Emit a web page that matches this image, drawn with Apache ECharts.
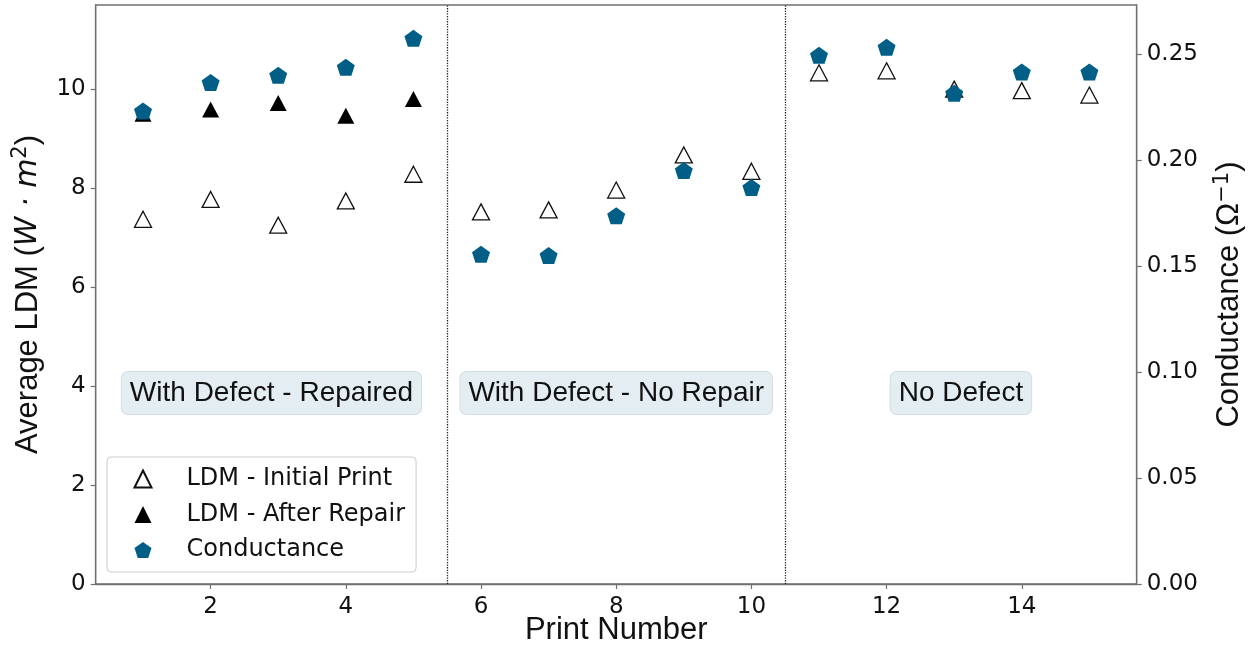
<!DOCTYPE html>
<html>
<head>
<meta charset="utf-8">
<script src="https://cdn.jsdelivr.net/npm/echarts@6/dist/echarts.min.js"></script>
<style>
html,body{margin:0;padding:0;background:#fff;}
#chart{width:1250px;height:647px;}
</style>
</head>
<body>
<div id="chart"></div>
<script>
// ---- data ----
const printNumbers = [1,2,3,4,5,6,7,8,9,10,11,12,13,14,15];
const ldmInitial = [7.37,7.77,7.25,7.74,8.28,7.52,7.56,7.96,8.67,8.34,10.33,10.37,10.0,9.97,9.88];
const repairedPrints = [1,2,3,4,5];
const ldmAfterRepair = [9.50,9.59,9.72,9.46,9.80];
const conductance = [0.2231,0.2365,0.2400,0.2437,0.2574,0.1555,0.1549,0.1737,0.1950,0.1870,0.2494,0.2532,0.2315,0.2415,0.2415];
const dividers = [5.5, 10.5];
const regionNames = ['With Defect - Repaired','With Defect - No Repair','No Defect'];
const regionAnchorX = [2.9, 8.0, 13.1];
const regionAnchorY = 3.86;
const xTicks = [2,4,6,8,10,12,14];
const yLeftTicks = [0,2,4,6,8,10];
const yRightTicks = [0,0.05,0.10,0.15,0.20,0.25];

const pentagon = 'path://M0,-1L0.951,-0.309L0.588,0.809L-0.588,0.809L-0.951,-0.309Z';
const FONT_TICK = 'DejaVu Sans';
const FONT_TITLE = 'Liberation Sans';
const axisCol = '#707070';

const chart = echarts.init(document.getElementById('chart'), null, {renderer:'canvas'});

const tickCommon = {
  axisLine:{show:true, lineStyle:{color:axisCol, width:1.3}},
  axisTick:{show:true, inside:false, length:5, lineStyle:{color:axisCol, width:1.2}},
  splitLine:{show:false}
};

const option = {
  animation:false,
  backgroundColor:'#fff',
  grid:{left:95.7, right:113.3, top:5, bottom:63, containLabel:false, outerBoundsMode:'none',
        show:true, borderColor:axisCol, borderWidth:1.3, backgroundColor:'transparent'},
  xAxis:{
    type:'value', min:0.3, max:15.7,
    ...tickCommon,
    axisTick:{...tickCommon.axisTick, customValues:xTicks},
    axisLabel:{customValues:xTicks, fontFamily:FONT_TICK, fontSize:23, color:'#111', margin:12},
    name:'Print Number', nameLocation:'middle', nameGap:31, nameMoveOverlap:false,
    nameTextStyle:{fontFamily:FONT_TITLE, fontSize:31, color:'#111', verticalAlign:'top'}
  },
  yAxis:[{
    type:'value', min:0, max:11.7, position:'left',
    ...tickCommon,
    axisTick:{...tickCommon.axisTick, customValues:yLeftTicks},
    axisLabel:{customValues:yLeftTicks, fontFamily:FONT_TICK, fontSize:23, color:'#111', margin:10},
    name:'{t|Average LDM (}{i|W · m}{s|2}{t|)}', nameLocation:'middle', nameGap:37, nameRotate:90,
    nameTextStyle:{rich:{
      t:{fontFamily:FONT_TITLE, fontSize:31, color:'#111', lineHeight:35},
      i:{fontFamily:FONT_TICK, fontStyle:'italic', fontSize:30, color:'#111', lineHeight:35},
      s:{fontFamily:FONT_TICK, fontSize:21, color:'#111', verticalAlign:'top', lineHeight:35, padding:[0,0,14,0]}
    }}
  },{
    type:'value', min:0, max:0.2731, position:'right',
    ...tickCommon,
    axisTick:{...tickCommon.axisTick, customValues:yRightTicks},
    axisLabel:{customValues:yRightTicks, fontFamily:FONT_TICK, fontSize:23, color:'#111', margin:10,
      formatter:v=>v.toFixed(2)},
    name:'{t|Conductance (Ω}{s|−1}{t|)}', nameLocation:'middle', nameGap:75, nameRotate:90,
    nameTextStyle:{rich:{
      t:{fontFamily:FONT_TITLE, fontSize:31, color:'#111', lineHeight:35},
      s:{fontFamily:FONT_TICK, fontSize:21, color:'#111', verticalAlign:'top', lineHeight:35, padding:[0,0,14,0]}
    }}
  }],
  legend:{
    data:['LDM - Initial Print','LDM - After Repair','Conductance'],
    orient:'vertical', left:107, top:457,
    backgroundColor:'#fff', borderColor:'#cccccc', borderWidth:1, borderRadius:4,
    padding:[9,11,9,26.5], itemWidth:17, itemHeight:17, itemGap:9.5,
    textStyle:{fontFamily:FONT_TICK, fontSize:24, color:'#111', lineHeight:26, padding:[0,0,0,30]}
  },
  series:[
    {
      name:'LDM - Initial Print', type:'scatter', yAxisIndex:0,
      symbol:'triangle', symbolSize:[17,16],
      itemStyle:{color:'#ffffff', borderColor:'#111', borderWidth:1.3, opacity:1},
      data:printNumbers.map((x,i)=>[x, ldmInitial[i]]),
      markLine:{
        silent:true, symbol:['none','none'], label:{show:false},
        lineStyle:{type:'dotted', color:'#222', width:1.3},
        data:dividers.map(v=>({xAxis:v}))
      },
      z:3
    },
    {
      name:'LDM - After Repair', type:'scatter', yAxisIndex:0,
      symbol:'triangle', symbolSize:[17,16],
      itemStyle:{color:'#000000', opacity:1},
      data:repairedPrints.map((x,i)=>[x, ldmAfterRepair[i]]),
      z:4
    },
    {
      name:'Conductance', type:'scatter', yAxisIndex:1,
      symbol:pentagon, symbolSize:[18,17],
      itemStyle:{color:'#015f87', opacity:1},
      data:printNumbers.map((x,i)=>[x, conductance[i]]),
      z:5
    },
    {
      name:'regions', type:'scatter', yAxisIndex:0,
      symbolSize:1, itemStyle:{color:'rgba(0,0,0,0)', opacity:1},
      silent:true,
      label:{
        show:true, position:'inside', formatter:p=>p.name,
        fontFamily:FONT_TITLE, fontSize:28, color:'#111', opacity:1,
        backgroundColor:'#e4edf2', borderColor:'#d3dee5', borderWidth:1, borderRadius:6,
        padding:[7,8,7,8]
      },
      data:regionNames.map((n,i)=>({name:n, value:[regionAnchorX[i], regionAnchorY]})),
      z:2
    }
  ]
};
chart.setOption(option);
</script>
</body>
</html>
